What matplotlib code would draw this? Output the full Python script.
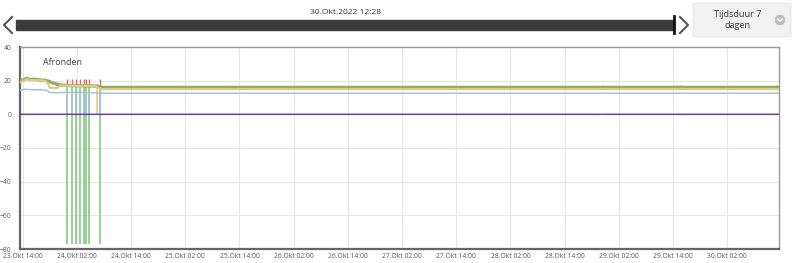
import numpy as np
import pandas as pd
import matplotlib
matplotlib.use('Agg')
import matplotlib.pyplot as plt
import matplotlib.dates as mdates
from matplotlib.patches import Rectangle, FancyBboxPatch, Circle

plt.rcParams['font.family'] = ['Open Sans', 'DejaVu Sans']

nan = np.nan

# all times are hours after 23.Okt 14:00
base = pd.Timestamp('2022-10-23 14:00')
x_start, x_end = -0.58, 167.47

# first part of each series (before the values settle)
green_t = [-0.6, 0.0, 0.9, 1.6, 2.5, 3.8, 5.0, 5.8, 6.6, 7.6, 8.5, 9.5, 11.0, 13.0, 15.0, 16.5, 17.4]
green_v = [19.8, 20.3, 21.4, 20.7, 20.9, 20.4, 20.2, 19.6, 18.7, 17.9, 17.4, 17.2, 17.0, 17.0, 16.9, 16.8, 16.0]

yellow_t = [-0.6, 0.0, 0.9, 1.6, 3.8, 5.0, 5.6, 6.0, 7.0, 7.8, 8.3, 9.5, 12.0, 16.0, 17.4]
yellow_v = [19.0, 19.8, 21.0, 20.3, 20.2, 19.8, 18.5, 15.8, 15.6, 15.8, 17.2, 17.0, 16.9, 16.8, 15.0]

blue_t = [-0.6, -0.5, 0.6, 2.5, 5.2, 6.0, 7.0, 9.0, 12.0, 17.4]
blue_v = [14.0, 14.4, 14.9, 14.6, 14.4, 13.0, 12.8, 13.0, 13.1, 12.6]

purple_t = [-0.6, -0.55, 17.4]
purple_v = [15.5, 0.0, 0.0]

# flat tail with small holes in the data
tail_t = [17.4, 128.3, 128.4, 128.7, 144.8, 144.9, 145.1, 145.7, 145.8, 146.0, 166.8, 166.9, 167.1, 167.5]
green_tail = [16.0, 16.0, nan, 16.0, 16.0, nan, 16.0, 16.0, nan, 16.0, 16.0, nan, 16.0, 16.0]
yellow_tail = [15.0, 15.0, nan, 15.0, 15.0, nan, 15.0, 15.0, nan, 15.0, 15.0, nan, 15.0, 15.0]
blue_tail = [12.6, 12.6, nan, 12.6, 12.6, nan, 12.6, 12.6, nan, 12.6, 12.6, nan, 12.6, 12.6]
purple_tail = [0.0, 0.0, nan, 0.0, 0.0, nan, 0.0, 0.0, nan, 0.0, 0.0, nan, 0.0, 0.0]

# outliers around 24.Okt 02:00
spike_t = [9.8, 11.0, 11.9, 12.6, 13.6, 14.1, 14.6, 17.1]
spike_low = -77.3
spike_green_top = 16.8
spike_blue_top = 13.0
spike_red = (17.0, 21.0)
yellow_drop_t = [16.4]
yellow_drop = (0.0, 16.8)

y_ticks = [40, 20, 0, -20, -40, -60, -80]


def to_dt(hours):
    return base + pd.to_timedelta(np.asarray(hours, dtype=float), unit='h')


fig = plt.figure(figsize=(8, 2.63), dpi=100)
ax = fig.add_axes([20 / 800, 1 - 249 / 263, 759 / 800, 202 / 263])

ax.vlines(to_dt(spike_t), spike_low, spike_green_top, color='#86c882', lw=1.2, zorder=2)
ax.vlines(to_dt(spike_t), 0, spike_blue_top, color='#a9c4d6', lw=1.2, zorder=3)
ax.vlines(to_dt(spike_t), spike_red[0], spike_red[1], color='#e06a5c', lw=1.0, zorder=3)
ax.vlines(to_dt(yellow_drop_t), yellow_drop[0], yellow_drop[1], color='#e3cf8a', lw=1.2, zorder=3)

ax.plot(to_dt(purple_t + tail_t), purple_v + purple_tail, color='#6a3fa0', lw=1.1, zorder=4)
ax.plot(to_dt(blue_t + tail_t), blue_v + blue_tail, color='#a9c1d6', lw=1.1, zorder=4)
ax.plot(to_dt(green_t + tail_t), green_v + green_tail, color='#92ad63', lw=2.4, zorder=4)
ax.plot(to_dt(yellow_t + tail_t), yellow_v + yellow_tail, color='#dccb86', lw=1.6, zorder=5)

ax.set_xlim(to_dt([x_start])[0], to_dt([x_end])[0])
ax.set_ylim(-80, 40)
ax.set_yticks(y_ticks)

ax.xaxis.set_major_locator(mdates.HourLocator(byhour=[2, 14]))
ax.xaxis.set_major_formatter(plt.FuncFormatter(
    lambda v, p: f"{mdates.num2date(v):%d}.Okt {mdates.num2date(v):%H:%M}"))

ax.grid(True, color='#e6e6e6', lw=0.8)
ax.set_axisbelow(True)
ax.tick_params(length=0, labelsize=4.9, labelcolor='#555555', pad=3)
ax.tick_params(axis='y', pad=6)
for side in ['top', 'right']:
    ax.spines[side].set_color('#9a9a9a')
    ax.spines[side].set_linewidth(1.0)
for side in ['left', 'bottom']:
    ax.spines[side].set_color('#666666')
    ax.spines[side].set_linewidth(1.6)

ax.text(43 / 800, 1 - 63 / 263, 'Afronden', transform=fig.transFigure,
        fontsize=6.4, color='#444444', va='center')

# header controls drawn in pixel space
hd = fig.add_axes([0, 0, 1, 1], zorder=-1)
hd.set_xlim(0, 800)
hd.set_ylim(263, 0)
hd.axis('off')
hd.add_patch(Rectangle((16, 20), 658, 10, color='#3b3b3b'))
hd.plot([673.5, 673.5], [16, 33], color='#111111', lw=2)
hd.plot([12, 4, 12], [17, 25, 33], color='#555555', lw=1.5)
hd.plot([680, 688, 680], [17, 25, 33], color='#555555', lw=1.5)
hd.text(346, 12, '30.Okt.2022 12:28', fontsize=6.1, color='#333333', ha='center', va='center')
hd.add_patch(FancyBboxPatch((693, 3), 98, 34, boxstyle='round,pad=0,rounding_size=2',
                            fc='#f1f1f1', ec='#e4e4e4', lw=0.6))
hd.text(738, 20, 'Tijdsduur 7\ndagen', fontsize=6.6, color='#333333',
        ha='center', va='center', linespacing=1.3)
hd.add_patch(Circle((780, 20), 4.6, color='#bdbdbd'))
hd.plot([777.8, 780, 782.2], [19, 21.2, 19], color='white', lw=1.1)

fig.savefig('out.png', dpi=100)
